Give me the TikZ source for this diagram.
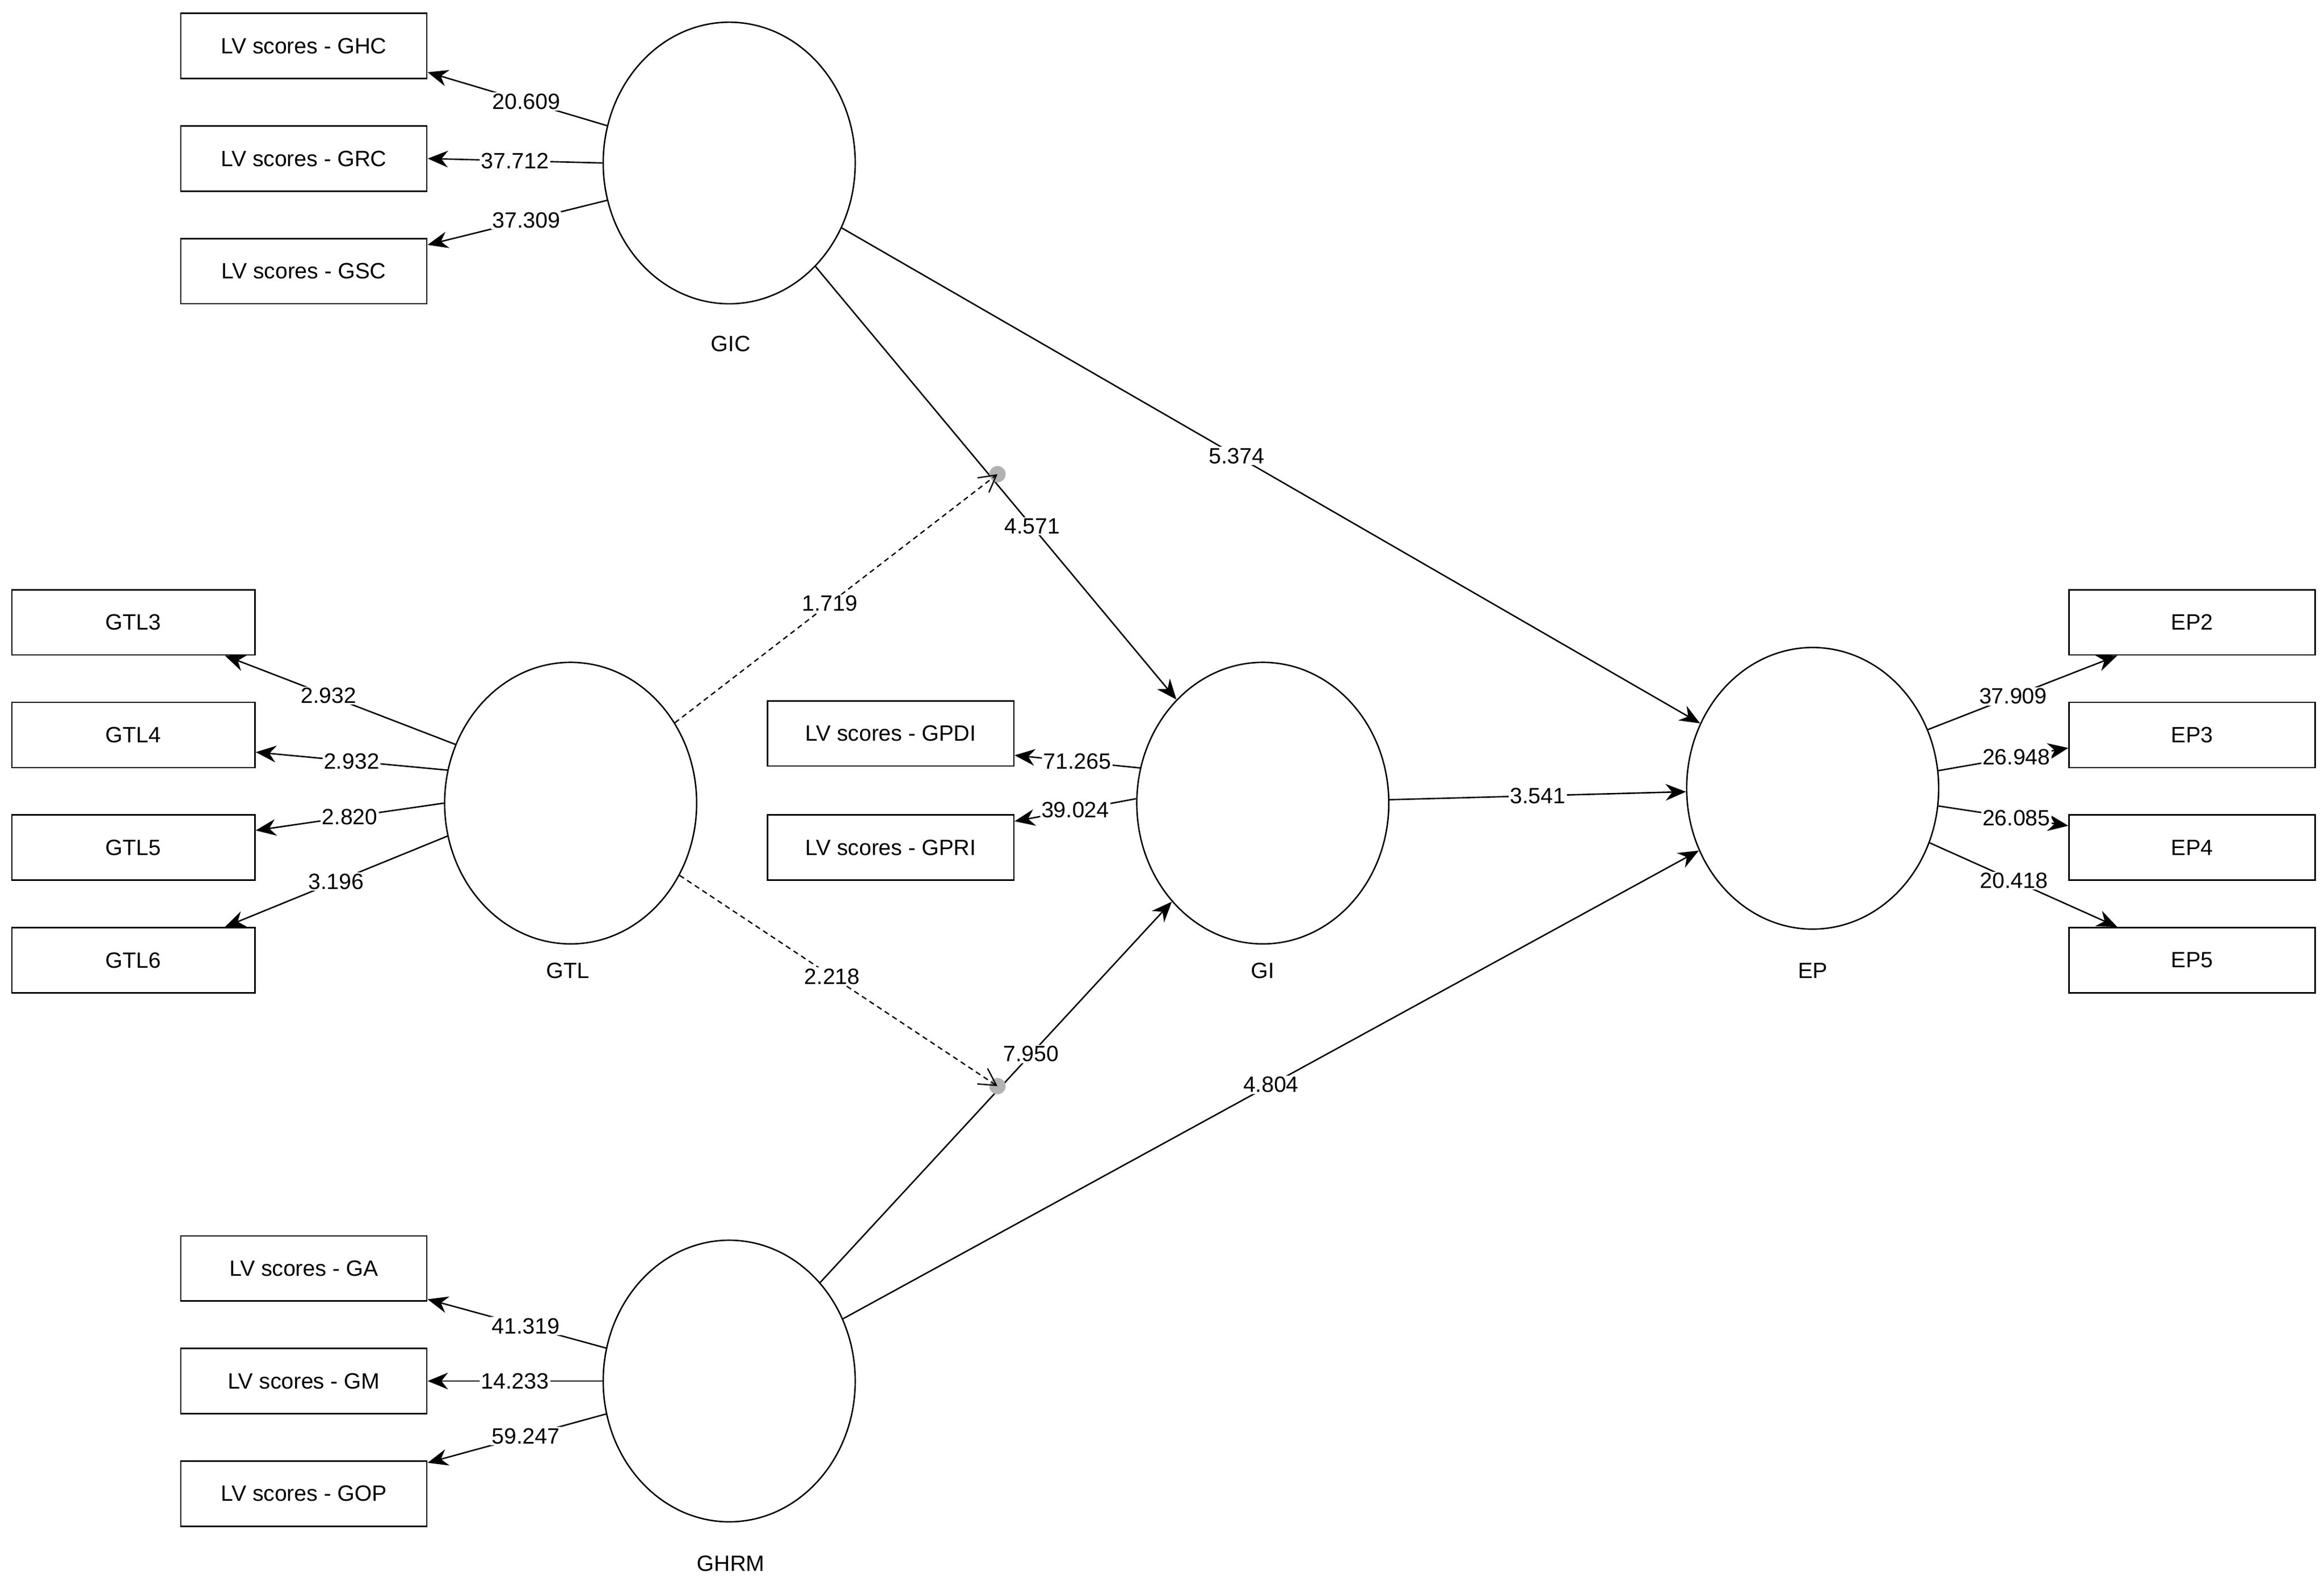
\documentclass[tikz,border=0pt]{standalone}
\usepackage{fontspec}
\setmainfont{Liberation Sans}
\usetikzlibrary{arrows.meta,shapes.geometric}
\begin{document}
\begin{tikzpicture}[x=0.04cm,y=-0.04cm,
  font=\fontsize{17}{20}\selectfont,
  lv/.style={draw,ellipse,line width=1.1pt,minimum width=6.8cm,minimum height=7.6cm,inner sep=0pt},
  box/.style={draw,rectangle,line width=1.1pt,minimum width=6.64cm,minimum height=1.76cm,inner sep=0pt},
  arr/.style={line width=1.1pt,-{Stealth[length=0.55cm,width=0.45cm]}},
  darr/.style={line width=1pt,dash pattern=on 4pt off 3pt,-{Straight Barb[length=0.45cm,width=0.5cm,line width=1pt]}},
  lbl/.style={fill=white,inner sep=1pt},
  lvname/.style={inner sep=0pt}]
\useasboundingbox (0,0) rectangle (1568,1070);
% latent variables
\node[lv] (gic) at (492,110) {};
\node[lv] (gtl) at (385,542) {};
\node[lv] (gi) at (852,542) {};
\node[lv] (ep) at (1223,532) {};
\node[lv] (ghrm) at (492,932) {};
\node[lvname] (tgic) at (493,232) {GIC};
\node[lvname] (tgtl) at (383,655) {GTL};
\node[lvname] (tgi) at (852,655) {GI};
\node[lvname] (tep) at (1223,655) {EP};
\node[lvname] (tghrm) at (493,1055) {GHRM};
% indicator boxes
\node[box] (ghc) at (205,31) {LV scores - GHC};
\node[box] (grc) at (205,107) {LV scores - GRC};
\node[box] (gsc) at (205,183) {LV scores - GSC};
\node[box,minimum width=6.56cm] (gtl3) at (90,420) {GTL3};
\node[box,minimum width=6.56cm] (gtl4) at (90,496) {GTL4};
\node[box,minimum width=6.56cm] (gtl5) at (90,572) {GTL5};
\node[box,minimum width=6.56cm] (gtl6) at (90,648) {GTL6};
\node[box] (gpdi) at (601,495) {LV scores - GPDI};
\node[box] (gpri) at (601,572) {LV scores - GPRI};
\node[box] (ep2) at (1479,420) {EP2};
\node[box] (ep3) at (1479,496) {EP3};
\node[box] (ep4) at (1479,572) {EP4};
\node[box] (ep5) at (1479,648) {EP5};
\node[box] (ga) at (205,856) {LV scores - GA};
\node[box] (gm) at (205,932) {LV scores - GM};
\node[box] (gop) at (205,1008) {LV scores - GOP};
% outer loadings
\draw[arr] (gic.163) -- node[lbl,pos=0.45] {20.609} (ghc.-12);
\draw[arr] (gic.180) -- node[lbl,pos=0.5] {37.712} (grc.east);
\draw[arr] (gic.197) -- node[lbl,pos=0.45] {37.309} (gsc.12);
\draw[arr] (gtl.153) -- node[lbl,pos=0.55] {2.932} (gtl3.-20);
\draw[arr] (gtl.165) -- node[lbl,pos=0.5] {2.932} (gtl4.-8);
\draw[arr] (gtl.180) -- node[lbl,pos=0.5] {2.820} (gtl5.8);
\draw[arr] (gtl.195) -- node[lbl,pos=0.5] {3.196} (gtl6.20);
\draw[arr] (gi.164) -- node[lbl,pos=0.5] {71.265} (gpdi.-10);
\draw[arr] (gi.178) -- node[lbl,pos=0.5] {39.024} (gpri.12);
\draw[arr] (ep.27) -- node[lbl,pos=0.45] {37.909} (ep2.204);
\draw[arr] (ep.8) -- node[lbl,pos=0.6] {26.948} (ep3.186);
\draw[arr] (ep.-8) -- node[lbl,pos=0.6] {26.085} (ep4.170);
\draw[arr] (ep.-25) -- node[lbl,pos=0.45] {20.418} (ep5.156);
\draw[arr] (ghrm.165) -- node[lbl,pos=0.45] {41.319} (ga.-14);
\draw[arr] (ghrm.180) -- node[lbl,pos=0.5] {14.233} (gm.east);
\draw[arr] (ghrm.195) -- node[lbl,pos=0.45] {59.247} (gop.14);
% structural paths
\draw[arr] (gic) -- node[lbl,pos=0.6] {4.571} (gi);
\draw[arr] (gic) -- node[lbl,pos=0.46] {5.374} (ep);
\draw[arr] (gi) -- node[lbl,pos=0.5] {3.541} (ep);
\draw[arr] (ghrm) -- node[lbl,pos=0.6] {7.950} (gi);
\draw[arr] (ghrm) -- node[lbl,pos=0.5] {4.804} (ep);
% moderating effects
\coordinate (m1) at (673,320);
\coordinate (m2) at (673,733);
\fill[gray!60] (m1) circle (5.5);
\fill[gray!60] (m2) circle (5.5);
\draw[darr] (gtl) -- node[lbl,pos=0.48] {1.719} (m1);
\draw[darr] (gtl) -- node[lbl,pos=0.48] {2.218} (m2);
\end{tikzpicture}
\end{document}
